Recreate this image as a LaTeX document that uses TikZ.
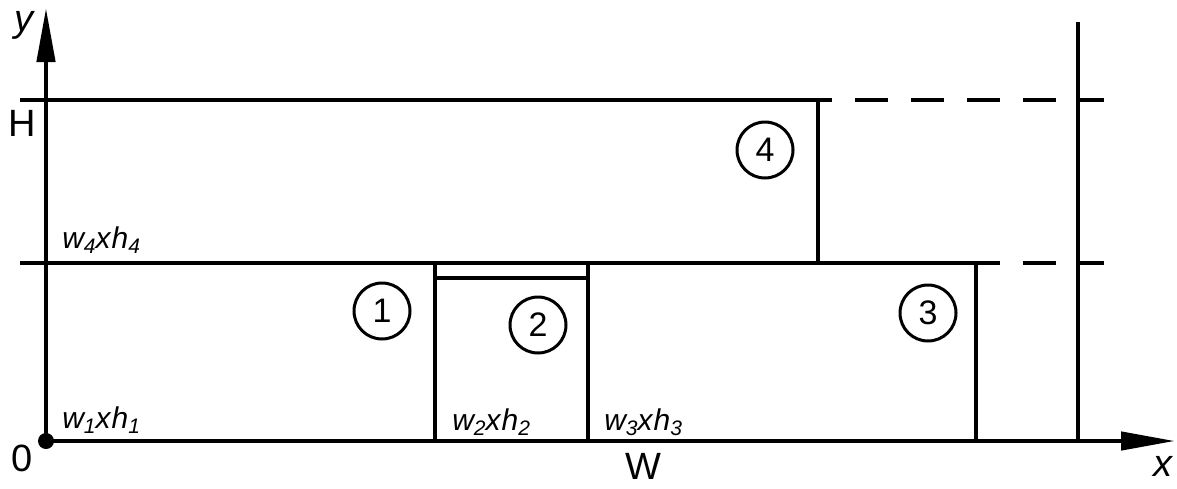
\documentclass[tikz,border=0pt]{standalone}
\usepackage{fontspec}
\setmainfont{Liberation Sans}
\usetikzlibrary{arrows.meta}
\newcommand\wxhlabel[1]{\itshape w\raisebox{-5pt}{\fontsize{21}{21}\selectfont #1}x\kern1pt h\raisebox{-5pt}{\fontsize{21}{21}\selectfont #1}}
\begin{document}
\begin{tikzpicture}[x=1pt,y=-1pt,line width=4.5pt,
  axisline/.style={-{Triangle[length=54pt,width=18pt]}},
  dashline/.style={dash pattern=on 33pt off 23pt},
  num/.style={circle,draw,line width=3pt,minimum size=56pt,inner sep=0pt,font=\fontsize{34}{34}\selectfont},
  biglabel/.style={inner sep=0pt,font=\fontsize{38}{38}\selectfont},
  dimlabel/.style={inner sep=0pt,anchor=base west,font=\fontsize{30}{30}\selectfont}]
\useasboundingbox (0,0) rectangle (1177,488);
% coordinates
\coordinate (O) at (46,441);
\coordinate (Ytip) at (46,8);
\coordinate (Xtip) at (1175,441);
\coordinate (HL) at (20,100);
\coordinate (HR) at (832,100);
\coordinate (HD1) at (855,100);
\coordinate (HD2) at (1104,100);
\coordinate (ML) at (20,263);
\coordinate (MR) at (1000,263);
\coordinate (MD1) at (1023,263);
\coordinate (MD2) at (1104,263);
\coordinate (R4t) at (818,100);
\coordinate (R4b) at (818,263);
\coordinate (R1t) at (435,263);
\coordinate (R1b) at (435,441);
\coordinate (R2t) at (588,263);
\coordinate (R2b) at (588,441);
\coordinate (R2l) at (435,278);
\coordinate (R2r) at (588,278);
\coordinate (R3t) at (976,263);
\coordinate (R3b) at (976,441);
\coordinate (Vt) at (1078,22);
\coordinate (Vb) at (1078,441);
% axes
\draw[axisline] (O) -- (Ytip);
\draw[axisline] (O) -- (Xtip);
\fill (O) circle (8pt);
% lines
\draw (HL) -- (HR);
\draw[dashline] (HD1) -- (HD2);
\draw (ML) -- (MR);
\draw[dashline] (MD1) -- (MD2);
\draw (R4t) -- (R4b);
\draw (R1t) -- (R1b);
\draw (R2t) -- (R2b);
\draw (R2l) -- (R2r);
\draw (R3t) -- (R3b);
\draw (Vt) -- (Vb);
% labels
\node[biglabel,font=\fontsize{38}{38}\selectfont\itshape] (ylab) at (24,25) {y};
\node[biglabel] (Hlab) at (22,123) {H};
\node[biglabel] (zlab) at (22,458) {0};
\node[biglabel] (Wlab) at (643,466) {W};
\node[biglabel,font=\fontsize{38}{38}\selectfont\itshape] (xlab) at (1163,466) {x};
\node[dimlabel] (l4) at (60,248) {\wxhlabel{4}};
\node[dimlabel] (l1) at (60,428) {\wxhlabel{1}};
\node[dimlabel] (l2) at (450,430) {\wxhlabel{2}};
\node[dimlabel] (l3) at (602,430) {\wxhlabel{3}};
\node[num] (c1) at (382,311) {1};
\node[num] (c2) at (538,325) {2};
\node[num] (c3) at (928,313) {3};
\node[num] (c4) at (765,150) {4};
\end{tikzpicture}
\end{document}
